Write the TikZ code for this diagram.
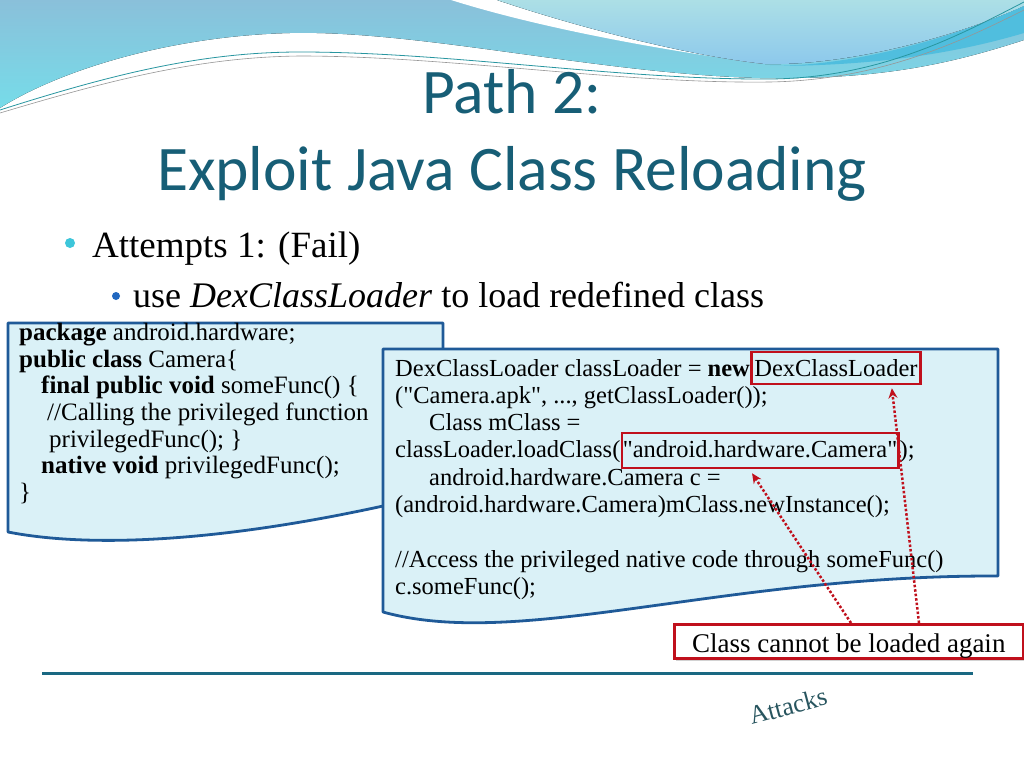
\documentclass[tikz,border=0pt]{standalone}
\usepackage{fontspec}
\setmainfont{Liberation Serif}
\newfontfamily\titlefont{Carlito}
\newfontfamily\codefont{Liberation Serif}
\usetikzlibrary{arrows.meta,shadows}
\definecolor{titleC}{RGB}{23,94,118}
\definecolor{docfill}{RGB}{218,241,247}
\definecolor{docdraw}{RGB}{31,90,152}
\definecolor{redC}{RGB}{192,16,28}
\definecolor{ruleC}{RGB}{26,104,130}
\definecolor{hdrTop}{RGB}{138,192,218}
\definecolor{hdrBot}{RGB}{118,220,233}
\definecolor{paleTop}{RGB}{172,223,230}
\definecolor{paleBot}{RGB}{140,200,236}
\definecolor{bandC}{RGB}{80,190,222}
\definecolor{tealLine}{RGB}{40,150,160}
\definecolor{grayLine}{RGB}{150,150,150}
\definecolor{dotA}{RGB}{61,198,218}
\definecolor{dotB}{RGB}{33,104,192}
\definecolor{attC}{RGB}{40,85,95}
\tikzset{
  titlestyle/.style={font=\titlefont\fontsize{63.5}{70}\selectfont, text=titleC, inner sep=0pt},
  bullettext/.style={anchor=base west, inner sep=0pt},
  docstyle/.style={draw=docdraw, fill=docfill, line width=2.8pt, line join=round},
  codeL/.style={anchor=base west, inner sep=0pt, font=\codefont\fontsize{25}{27}\selectfont},
  codeR/.style={anchor=base west, inner sep=0pt, font=\codefont\fontsize{24.5}{27}\selectfont},
  redbox/.style={draw=redC, line width=2.5pt, anchor=base west, font=\codefont\fontsize{24.5}{27}\selectfont},
  redarrow/.style={draw=redC, line width=2.5pt, dash pattern=on 2.5pt off 2pt, -{Stealth[length=10pt,width=9pt]}},
  dotstyle/.style={circle, inner sep=0pt}
}
\begin{document}
\begin{tikzpicture}[x=1pt,y=-1pt]
\useasboundingbox (0,0) rectangle (1024,768);
\fill[white] (0,0) rectangle (1024,768);
% header decoration
\fill[top color=hdrTop, bottom color=hdrBot] (0,0) -- (1024,0) -- (1024,40)
  .. controls (950,64) and (880,80) .. (760,78)
  .. controls (600,74) and (420,30) .. (290,33)
  .. controls (170,36) and (60,70) .. (0,108) -- cycle;
\fill[white] (451,0) -- (497,0) .. controls (580,28) and (690,56) .. (765,64)
  .. controls (660,50) and (540,28) .. (451,0) -- cycle;
\fill[top color=paleTop, bottom color=paleBot] (497,0) .. controls (580,28) and (690,56) .. (765,64)
  .. controls (850,66) and (960,35) .. (1024,6) -- (1024,0) -- cycle;
\fill[bandC] (770,66) .. controls (860,66) and (960,35) .. (1024,6) -- (1024,33)
  .. controls (960,52) and (880,66) .. (770,66) -- cycle;
\draw[tealLine, line width=0.8pt] (0,110) .. controls (110,75) and (200,52) .. (300,52)
  .. controls (450,52) and (620,80) .. (770,79) .. controls (880,78) and (960,35) .. (1024,2);
\draw[grayLine, line width=0.6pt] (0,113) .. controls (110,80) and (200,57) .. (300,56)
  .. controls (450,56) and (620,84) .. (770,82) .. controls (880,80) and (960,42) .. (1024,10);
% title
\node[titlestyle, anchor=base] (t1) at (512,113) {Path 2:};
\node[titlestyle, anchor=base] (t2) at (512,190) {Exploit Java Class Reloading};
% bullets
\node[dotstyle, fill=dotA, minimum size=10pt] (b1) at (70,243) {};
\node[bullettext, font=\fontsize{37}{40}\selectfont] (bt1) at (92,257) {Attempts 1: (Fail)};
\node[dotstyle, fill=dotB, minimum size=8pt] (b2) at (116,296) {};
\node[bullettext, font=\fontsize{36}{40}\selectfont] (bt2) at (133,307) {use \textit{DexClassLoader} to load redefined class};
% left document
\draw[docstyle] (8,323) -- (443,323) -- (443,492) .. controls (250,540) and (100,550) .. (8,532) -- cycle;
\node[codeL] (p1) at (19,340) {\textbf{package} android.hardware;};
\node[codeL] (p2) at (19,367) {\textbf{public class} Camera\{};
\node[codeL] (p3) at (41,393) {\textbf{final public void} someFunc() \{};
\node[codeL] (p4) at (47,420) {//Calling the privileged function};
\node[codeL] (p5) at (49,447) {privilegedFunc(); \}};
\node[codeL] (p6) at (41,473) {\textbf{native void} privilegedFunc();};
\node[codeL] (p7) at (19,500) {\}};
% right document
\draw[docstyle] (383,349) -- (998,349) -- (998,576) .. controls (720,575) and (520,650) .. (383,612) -- cycle;
\node[codeR] (r1a) at (395,376) {DexClassLoader classLoader = \textbf{new}};
\node[redbox, text height=21pt, text depth=5pt, inner ysep=3pt, inner xsep=3pt] (dcl) at (r1a.base east) {DexClassLoader\hspace{10pt}};
\node[codeR] (r2) at (395,403) {("Camera.apk", ..., getClassLoader());};
\node[codeR] (r3) at (429,430) {Class mClass =};
\node[codeR] (r4a) at (395,457) {classLoader.loadClass(};
\node[redbox, text height=21pt, text depth=8pt, inner ysep=3pt, inner xsep=1pt] (cam) at (r4a.base east) {"android.hardware.Camera"};
\node[codeR] (r4b) at (cam.base east) {);};
\node[codeR] (r5) at (429,485) {android.hardware.Camera c =};
\node[codeR] (r6) at (395,512) {(android.hardware.Camera)mClass.newInstance();};
\node[codeR] (r8) at (395,567) {//Access the privileged native code through someFunc()};
\node[codeR] (r9) at (395,594) {c.someFunc();};
% callout
\node[draw=redC, line width=2.5pt, fill=white, drop shadow={shadow xshift=2pt, shadow yshift=-3pt, opacity=0.35},
  font=\codefont\fontsize{27}{30}\selectfont, minimum width=349pt, text height=25pt, text depth=3pt, inner ysep=3pt, inner xsep=0pt,
  anchor=north west] (cnl) at (673,623) {Class cannot be loaded again};
\draw[redarrow] ([xshift=178pt]cnl.north west) -- ([xshift=-8pt,yshift=-4pt]cam.south);
\draw[redarrow] ([xshift=246pt]cnl.north west) -- ([xshift=-30pt,yshift=-3pt]dcl.south east);
% footer
\draw[ruleC, line width=3pt] (42,673) -- (973,673);
\node[rotate=15, font=\fontsize{26}{26}\selectfont, text=attC, inner sep=0pt] (att) at (788,706) {Attacks};
\end{tikzpicture}
\end{document}
